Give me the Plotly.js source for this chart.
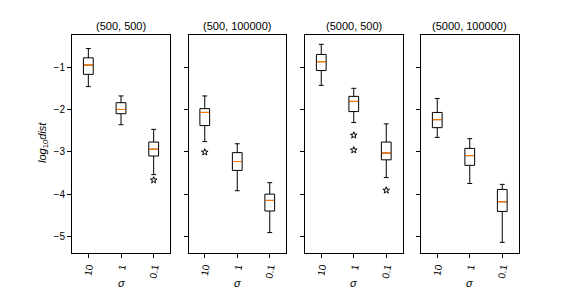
<!DOCTYPE html>
<html>
<head>
<meta charset="utf-8">
<script src="https://cdn.plot.ly/plotly-3.0.1.min.js"></script>
<style>html,body{margin:0;padding:0;background:#fff;}</style>
</head>
<body>
<div id="chart" style="width:576px;height:288px;"></div>
<script>
// Data
const panelTitles = ["(500, 500)", "(500, 100000)", "(5000, 500)", "(5000, 100000)"];
const sigmaLabels = ["10", "1", "0.1"];
const positions = [1, 2, 3];

const upperWhisker = [
  [-0.56, -1.68, -2.47],
  [-1.68, -2.81, -3.73],
  [-0.46, -1.50, -2.34],
  [-1.74, -2.69, -3.77]
];
const q3Values = [
  [-0.78, -1.84, -2.77],
  [-1.98, -3.02, -4.00],
  [-0.70, -1.69, -2.77],
  [-2.07, -2.92, -3.89]
];
const medianValues = [
  [-0.95, -2.00, -2.94],
  [-2.07, -3.23, -4.15],
  [-0.87, -1.81, -3.03],
  [-2.24, -3.09, -4.18]
];
const q1Values = [
  [-1.17, -2.10, -3.10],
  [-2.38, -3.44, -4.40],
  [-1.08, -2.05, -3.19],
  [-2.43, -3.32, -4.41]
];
const lowerWhisker = [
  [-1.46, -2.36, -3.54],
  [-2.76, -3.92, -4.91],
  [-1.43, -2.31, -3.61],
  [-2.66, -3.75, -5.14]
];
const outlierPos = [[3], [1], [2, 2, 3], []];
const outlierVal = [[-3.67], [-3.01], [-2.61, -2.96, -3.91], []];

const W = 576, H = 288;
const panelPx = [[72, 170], [188.5, 286], [305, 402.5], [421, 518.5]];
const yTopPx = 35, yBotPx = 252.5;
const yRange = [-5.38, -0.24];

const font = "Liberation Sans, Arial, sans-serif";
const traces = [];
const layout = {
  width: W, height: H,
  margin: {l: 0, r: 0, t: 0, b: 0},
  paper_bgcolor: "#fff", plot_bgcolor: "#fff",
  showlegend: false,
  boxmode: "overlay",
  hovermode: false,
  font: {family: font, size: 10, color: "#000"},
  annotations: []
};

for (let p = 0; p < 4; p++) {
  const sfx = p === 0 ? "" : String(p + 1);
  const xa = "x" + sfx, ya = "y" + sfx;
  traces.push({
    type: "box", xaxis: xa, yaxis: ya,
    x: positions,
    q1: q1Values[p], median: medianValues[p], q3: q3Values[p],
    lowerfence: lowerWhisker[p], upperfence: upperWhisker[p],
    width: 0.3, whiskerwidth: 0.5,
    line: {color: "#000", width: 1},
    fillcolor: "rgba(255,255,255,0)",
    boxpoints: false
  });
  traces.push({
    type: "box", xaxis: xa, yaxis: ya,
    x: positions,
    q1: medianValues[p], median: medianValues[p], q3: medianValues[p],
    lowerfence: medianValues[p], upperfence: medianValues[p],
    width: 0.27, whiskerwidth: 0,
    line: {color: "#ff7f0e", width: 0.7},
    fillcolor: "rgba(0,0,0,0)",
    boxpoints: false
  });
  if (outlierVal[p].length) {
    traces.push({
      type: "scatter", mode: "markers", xaxis: xa, yaxis: ya,
      x: outlierPos[p], y: outlierVal[p],
      marker: {symbol: "star-open", size: 5, color: "#000", line: {width: 1, color: "#000"}}
    });
  }
  const dom = [panelPx[p][0] / W, panelPx[p][1] / W];
  layout["xaxis" + sfx] = {
    domain: dom, anchor: ya, range: [0.5, 3.5],
    tickvals: positions, ticktext: sigmaLabels, tickangle: -80,
    ticks: "outside", ticklen: 4, tickwidth: 1, tickcolor: "#000",
    showline: true, mirror: true, linecolor: "#000", linewidth: 1,
    showgrid: false, zeroline: false,
    tickfont: {family: font, size: 10, color: "#000"}
  };
  layout["yaxis" + sfx] = {
    domain: [1 - yBotPx / H, 1 - yTopPx / H], anchor: xa, range: yRange,
    tickvals: [-1, -2, -3, -4, -5],
    ticks: "outside", ticklen: 4, tickwidth: 1, tickcolor: "#000",
    showticklabels: p === 0,
    showline: true, mirror: true, linecolor: "#000", linewidth: 1,
    showgrid: false, zeroline: false,
    tickfont: {family: font, size: 10, color: "#000"}
  };
  if (p > 0) layout["yaxis" + sfx].matches = "y";
  const cx = (dom[0] + dom[1]) / 2;
  layout.annotations.push({
    text: panelTitles[p], xref: "paper", yref: "paper",
    x: cx, y: 1 - 26 / H, xanchor: "center", yanchor: "middle",
    showarrow: false, font: {family: font, size: 11, color: "#000"}
  });
  layout.annotations.push({
    text: "<i>σ</i>", xref: "paper", yref: "paper",
    x: cx, y: 1 - 283 / H, xanchor: "center", yanchor: "middle",
    showarrow: false, font: {family: font, size: 11, color: "#000"}
  });
}
layout.annotations.push({
  text: "<i>log</i><sub>10</sub><i>dist</i>", xref: "paper", yref: "paper",
  x: 43 / W, y: 1 - 143 / H, xanchor: "center", yanchor: "middle",
  textangle: -90, showarrow: false, font: {family: font, size: 11, color: "#000"}
});

Plotly.newPlot("chart", traces, layout, {staticPlot: true, displayModeBar: false});
</script>
</body>
</html>
